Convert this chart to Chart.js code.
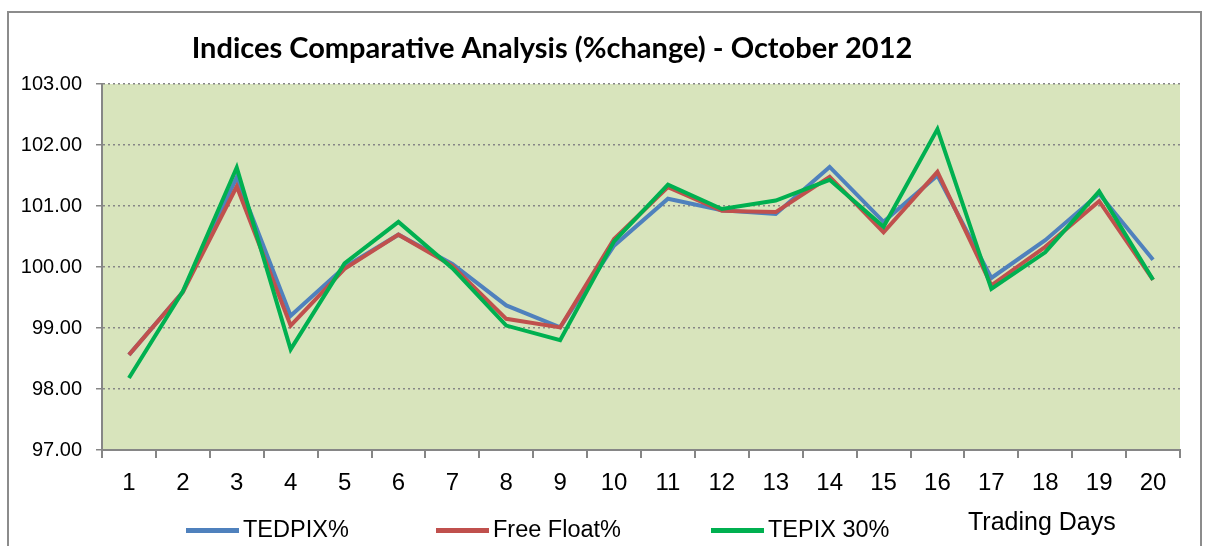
<!DOCTYPE html>
<html>
<head>
<meta charset="utf-8">
<script src="https://cdn.jsdelivr.net/npm/chart.js@4.4.0/dist/chart.umd.min.js"></script>
<style>
html, body { margin: 0; padding: 0; background: #fff; }
#wrap { position: relative; width: 1207px; height: 546px; overflow: hidden; }
#frame { position: absolute; left: 7px; top: 11px; width: 1195px; height: 600px; border: 2px solid #8c8c8c; box-sizing: border-box; }
canvas { position: absolute; left: 0; top: 0; }
</style>
</head>
<body>
<div id="wrap">
  <div id="frame"></div>
  <canvas id="chart" width="1207" height="546"></canvas>
</div>
<script>
// data
var days = ['1','2','3','4','5','6','7','8','9','10','11','12','13','14','15','16','17','18','19','20'];
var tedpix    = [98.56, 99.59, 101.47, 99.20, 100.00, 100.53, 100.05, 99.37, 99.01, 100.35, 101.12, 100.93, 100.87, 101.64, 100.74, 101.50, 99.82, 100.44, 101.20, 100.12];
var freeFloat = [98.56, 99.59, 101.32, 99.04,  99.97, 100.53, 100.02, 99.15, 99.01, 100.46, 101.31, 100.92, 100.90, 101.48, 100.57, 101.56, 99.70, 100.33, 101.08,  99.79];
var tepix30   = [98.18, 99.60, 101.63, 98.65, 100.06, 100.74,  99.98, 99.04, 98.80, 100.42, 101.35, 100.95, 101.09, 101.43, 100.66, 102.26, 99.64, 100.24, 101.24,  99.79];
var seriesNames = ['TEDPIX%', 'Free Float%', 'TEPIX 30%'];
var yMin = 97, yMax = 103;

var titleText = 'Indices Comparative Analysis (%change) - October 2012';
var axisTitle = 'Trading Days';
var legendX = [186, 436, 711];

var decor = {
  id: 'decor',
  beforeDraw: function(chart) {
    var a = chart.chartArea, ctx = chart.ctx;
    ctx.save();
    ctx.fillStyle = '#D8E4BC';
    ctx.fillRect(a.left, a.top, a.right - a.left, a.bottom - a.top);
    ctx.restore();
  },
  afterDraw: function(chart) {
    var ctx = chart.ctx;
    ctx.save();
    ctx.fillStyle = '#000';
    ctx.font = 'bold 29px Lato';
    ctx.textAlign = 'center';
    ctx.textBaseline = 'middle';
    ctx.fillText(titleText, 552, 49);

    // legend
    ctx.font = '23.5px "Liberation Sans", Arial';
    ctx.textAlign = 'left';
    chart.data.datasets.forEach(function(ds, i) {
      var x = legendX[i];
      ctx.fillStyle = ds.borderColor;
      ctx.fillRect(x, 528, 53, 5);
      ctx.fillStyle = '#000';
      ctx.fillText(ds.label, x + 57, 531);
    });

    ctx.font = '25px "Liberation Sans", Arial';
    ctx.fillText(axisTitle, 968, 523);
    ctx.restore();
  }
};

var ctx = document.getElementById('chart').getContext('2d');
var chart = new Chart(ctx, {
  type: 'line',
  data: {
    labels: days,
    datasets: [
      { label: seriesNames[0], data: tedpix, borderColor: '#4F81BD', backgroundColor: '#4F81BD', borderWidth: 4, pointRadius: 0, order: 3 },
      { label: seriesNames[1], data: freeFloat, borderColor: '#C0504D', backgroundColor: '#C0504D', borderWidth: 4, pointRadius: 0, order: 2 },
      { label: seriesNames[2], data: tepix30, borderColor: '#00B050', backgroundColor: '#00B050', borderWidth: 4, pointRadius: 0, order: 1 }
    ]
  },
  options: {
    responsive: false,
    animation: false,
    devicePixelRatio: 1,
    layout: { padding: { top: 84, right: 27, bottom: 0, left: 0 } },
    plugins: {
      legend: { display: false },
      title: { display: false },
      tooltip: { enabled: false }
    },
    scales: {
      x: {
        offset: true,
        afterFit: function(s) { s.height = 96; },
        grid: { offset: true, drawOnChartArea: false, drawTicks: true, tickLength: 8, color: '#868686', lineWidth: 2 },
        border: { color: '#868686', width: 2 },
        ticks: { color: '#000', font: { family: '"Liberation Sans", Arial', size: 24 }, padding: 11, maxRotation: 0, autoSkip: false }
      },
      y: {
        min: yMin,
        max: yMax,
        afterFit: function(s) { s.width = 102; },
        grid: { color: '#868686', lineWidth: 1.5, tickLength: 6, borderDash: [2, 3] },
        border: { color: '#868686', width: 2, dash: [2, 3] },
        ticks: {
          stepSize: 1,
          color: '#000',
          padding: 14,
          font: { family: '"Liberation Sans", Arial', size: 20 },
          callback: function(v) { return v.toFixed(2); }
        }
      }
    }
  },
  plugins: [decor]
});
</script>
</body>
</html>
